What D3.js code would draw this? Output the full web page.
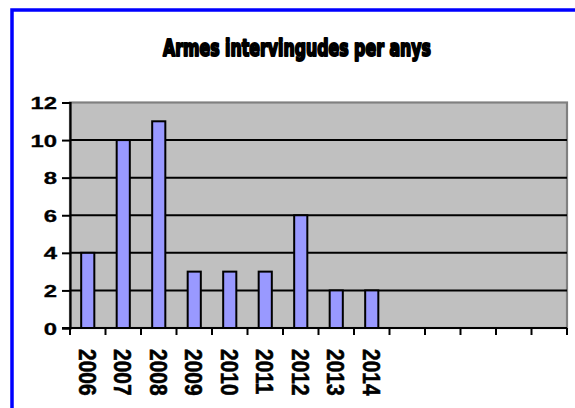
<!DOCTYPE html>
<html>
<head>
<meta charset="utf-8">
<script src="https://cdn.jsdelivr.net/npm/d3@7"></script>
<style>
  html, body { margin: 0; padding: 0; background: #fff; }
  svg { display: block; }
</style>
</head>
<body>
<svg id="chart" width="575" height="408"></svg>
<script>
const title = "Armes intervingudes per anys";
const categories = ["2006","2007","2008","2009","2010","2011","2012","2013","2014","","","","",""];
const values = [4, 10, 11, 3, 3, 3, 6, 2, 2];
const yTicks = [0, 2, 4, 6, 8, 10, 12];

const svg = d3.select("#chart");
const m = { left: 70, right: 567, top: 102.5, bottom: 328 };

// outer blue frame
svg.append("rect")
  .attr("x", 12).attr("y", 10).attr("width", 700).attr("height", 600)
  .attr("fill", "none").attr("stroke", "#0000FF").attr("stroke-width", 3.5);

// title
svg.append("text")
  .attr("x", 297).attr("y", 56)
  .attr("text-anchor", "middle")
  .attr("font-family", "'DejaVu Sans Condensed', 'DejaVu Sans', sans-serif")
  .attr("font-weight", "bold")
  .attr("font-size", 21)
  .attr("stroke", "#000").attr("stroke-width", 1.8).attr("stroke-linejoin", "round")
  .attr("textLength", 268).attr("lengthAdjust", "spacingAndGlyphs")
  .attr("transform", "translate(297,56) scale(1,1.12) translate(-297,-56)")
  .text(title);

const x = d3.scaleBand().domain(d3.range(categories.length)).range([m.left, m.right]).padding(0);
const y = d3.scaleLinear().domain([0, 12]).range([m.bottom, m.top]);

// plot background
svg.append("rect")
  .attr("x", m.left).attr("y", m.top)
  .attr("width", m.right - m.left).attr("height", m.bottom - m.top)
  .attr("fill", "#C0C0C0").attr("stroke", "#808080").attr("stroke-width", 2.2);

// gridlines
svg.append("g").selectAll("line")
  .data(yTicks.filter(t => t > 0 && t < 12))
  .join("line")
  .attr("x1", m.left).attr("x2", m.right)
  .attr("y1", d => y(d)).attr("y2", d => y(d))
  .attr("stroke", "#000").attr("stroke-width", 2);

// bars
const bw = x.bandwidth() * 0.37;
svg.append("g").selectAll("rect")
  .data(values)
  .join("rect")
  .attr("x", (d, i) => x(i) + (x.bandwidth() - bw) / 2)
  .attr("y", d => y(d))
  .attr("width", bw)
  .attr("height", d => y(0) - y(d))
  .attr("fill", "#9999FF")
  .attr("stroke", "#000").attr("stroke-width", 2);

// y axis
const yAxis = svg.append("g").attr("transform", `translate(${m.left},0)`)
  .call(d3.axisLeft(y).tickValues(yTicks).tickSize(8).tickPadding(5).tickFormat(d3.format("d")));
yAxis.select(".domain").attr("stroke", "#000").attr("stroke-width", 2.2);
yAxis.selectAll(".tick line").attr("stroke", "#000").attr("stroke-width", 2);
yAxis.selectAll(".tick text")
  .attr("font-family", "'Liberation Sans', Arial, sans-serif")
  .attr("font-weight", "bold").attr("font-size", 16.5).attr("fill", "#000")
  .attr("stroke", "#000").attr("stroke-width", 0.3)
  .attr("x", null).attr("dy", null)
  .attr("text-anchor", "end")
  .attr("dominant-baseline", "central")
  .attr("transform", "translate(-13,0) scale(1.45,1)");

// x axis
const xAxisG = svg.append("g").attr("transform", `translate(0,${m.bottom})`);
xAxisG.append("line")
  .attr("x1", m.left - 8).attr("x2", m.right)
  .attr("y1", 0).attr("y2", 0)
  .attr("stroke", "#000").attr("stroke-width", 2.2);
const boundaries = d3.range(categories.length + 1).map(i => m.left + i * x.bandwidth());
xAxisG.selectAll("line.tk")
  .data(boundaries)
  .join("line").attr("class", "tk")
  .attr("x1", d => d).attr("x2", d => d)
  .attr("y1", 0).attr("y2", 7)
  .attr("stroke", "#000").attr("stroke-width", 2);
xAxisG.selectAll("text")
  .data(categories)
  .join("text")
  .attr("transform", (d, i) => `translate(${x(i) + x.bandwidth() / 2 - 1},21) rotate(90) scale(1,1.15)`)
  .attr("text-anchor", "start")
  .attr("dominant-baseline", "central")
  .attr("font-family", "'Liberation Sans', Arial, sans-serif")
  .attr("font-weight", "bold").attr("font-size", 21).attr("fill", "#000")
  .attr("stroke", "#000").attr("stroke-width", 0.5)
  .text(d => d);
</script>
</body>
</html>
